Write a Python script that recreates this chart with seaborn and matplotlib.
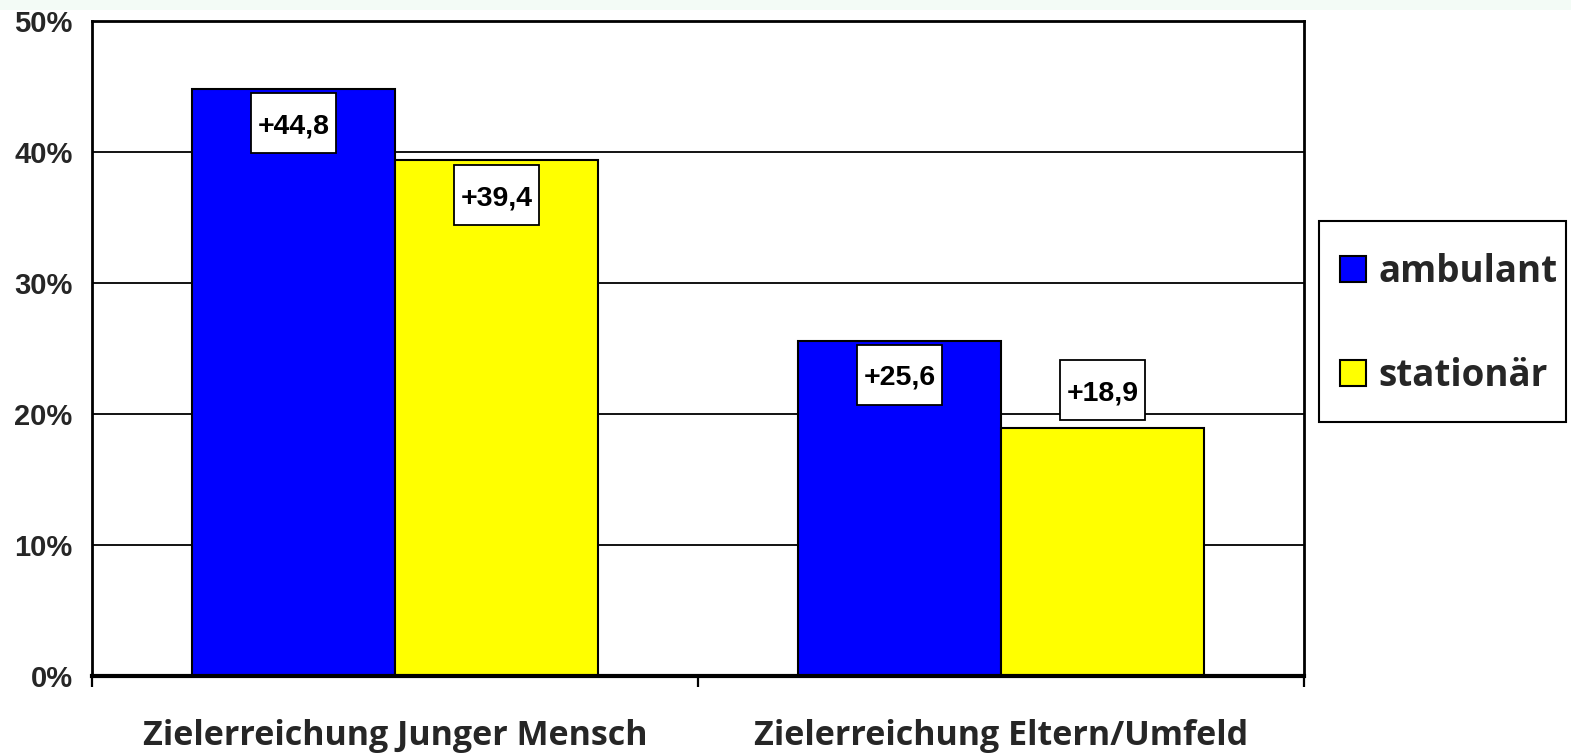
import numpy as np
import pandas as pd
import matplotlib
matplotlib.use("Agg")
import matplotlib.pyplot as plt
import matplotlib.transforms as mtransforms
import seaborn as sns
from matplotlib.patches import Patch, Rectangle

# chart data
categories = ['Zielerreichung Junger Mensch', 'Zielerreichung Eltern/Umfeld']
groups = ['ambulant', 'stationär']
ambulant = [44.8, 25.6]
stationaer = [39.4, 18.9]
value_labels = [['+44,8', '+25,6'], ['+39,4', '+18,9']]
y_ticks = [0, 10, 20, 30, 40, 50]
y_ticklabels = ['0%', '10%', '20%', '30%', '40%', '50%']

df = pd.DataFrame({
    'Kategorie': categories * 2,
    'Gruppe': [groups[0]] * 2 + [groups[1]] * 2,
    'Wert': ambulant + stationaer,
})
colors = ['#0000FF', '#FFFF00']

sns.set_theme(style='white')
W, H = 1571, 753
fig = plt.figure(figsize=(W / 100, H / 100), dpi=100)
ax = fig.add_axes([92 / W, 1 - 676 / H, (1304 - 92) / W, (676 - 21) / H])

# faint band at the very top
fig.add_artist(Rectangle((0, 1 - 10 / H), 1, 10 / H, transform=fig.transFigure,
                         color='#f3fbf6', lw=0, zorder=0))

sns.barplot(data=df, x='Kategorie', y='Wert', hue='Gruppe', hue_order=groups,
            palette=colors, width=0.67, edgecolor='black', linewidth=1.5,
            saturation=1, legend=False, ax=ax)

ax.set_ylim(0, 50)
ax.set_xlim(-0.5, 1.5)
ax.set_yticks(y_ticks)
ax.set_yticklabels(y_ticklabels, fontfamily='Liberation Sans', fontweight='bold', fontsize=21)
ax.tick_params(axis='y', length=0, pad=14)
ax.yaxis.grid(True, color='black', lw=1.3)
ax.set_axisbelow(True)

ax.set_xticks([0, 1])
ax.set_xticklabels(categories, fontfamily='Open Sans', fontweight='bold', fontsize=24.5)
ax.tick_params(axis='x', length=0, pad=31)
ax.set_xticks([-0.5, 0.5, 1.5], minor=True)
ax.tick_params(axis='x', which='minor', bottom=True, length=8, width=1.6,
               color='black', direction='out')
ax.set_xlabel('')
ax.set_ylabel('')

for side in ['left', 'top', 'right']:
    ax.spines[side].set_color('black')
    ax.spines[side].set_linewidth(2)
ax.spines['bottom'].set_color('black')
ax.spines['bottom'].set_linewidth(3)

# value boxes, most sit inside the bar, the small one above it
offsets = [[-2.6, -2.6], [-2.7, 2.9]]
for i, cont in enumerate(ax.containers):
    for j, bar in enumerate(cont):
        xc = bar.get_x() + bar.get_width() / 2
        yv = bar.get_height() + offsets[i][j]
        box_tr = fig.dpi_scale_trans + mtransforms.ScaledTranslation(xc, yv, ax.transData)
        ax.add_patch(Rectangle((-0.425, -0.30), 0.85, 0.60, transform=box_tr,
                               fc='white', ec='black', lw=1.3, zorder=4))
        ax.text(xc, yv, value_labels[i][j], ha='center', va='center_baseline',
                fontfamily='Liberation Sans', fontweight='bold', fontsize=20.5,
                color='black', zorder=5)

# legend with its frame drawn separately
fig.add_artist(Rectangle((1319 / W, 1 - 422 / H), 247 / W, 201 / H,
                         transform=fig.transFigure, fc='white', ec='black',
                         lw=1.5, zorder=-1))
handles = [Patch(facecolor=c, edgecolor='black', lw=1.5) for c in colors]
leg = ax.legend(handles, groups, loc='center left',
                bbox_to_anchor=(1340 / W, 1 - 324 / H), bbox_transform=fig.transFigure,
                borderaxespad=0, borderpad=0, frameon=False,
                prop={'family': 'Open Sans', 'weight': 'bold', 'size': 26.5},
                handlelength=0.7, handleheight=0.7, handletextpad=0.35,
                labelspacing=1.8)

fig.savefig('out.png', dpi=100)
